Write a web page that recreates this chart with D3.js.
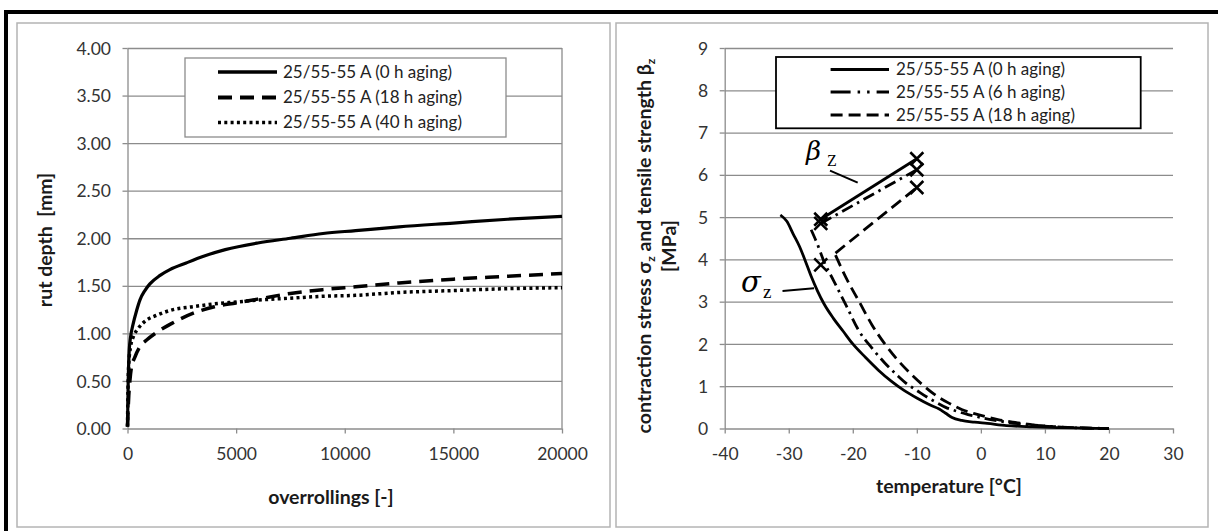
<!DOCTYPE html>
<html>
<head>
<meta charset="utf-8">
<script src="https://cdn.jsdelivr.net/npm/d3@7"></script>
<style>
  html, body { margin: 0; padding: 0; background: #fff; }
  svg { display: block; }
  .tick text { font-family: Lato, sans-serif; font-size: 17.5px; fill: #333; }
  .title { font-family: Lato, sans-serif; font-size: 19.5px; font-weight: bold; fill: #1a1a1a; }
  .legend text { font-family: Lato, sans-serif; font-size: 17px; fill: #222; }
</style>
</head>
<body>
<div id="chart"></div>
<script>
// ---- left chart: rut depth vs overrollings ----
var RUT_TICKS_X = [0, 5000, 10000, 15000, 20000];
var RUT_TICKS_Y = [0, 0.5, 1, 1.5, 2, 2.5, 3, 3.5, 4];

var RUT_0H = [[0,0.02],[30,0.47],[80,0.82],[140,0.96],[260,1.10],[420,1.24],[570,1.35],[800,1.45],[1030,1.52],
    [1500,1.61],[1950,1.67],[2700,1.74],[3500,1.81],[4500,1.88],[6000,1.95],[7500,2.00],[9000,2.05],
    [10500,2.08],[12500,2.12],[15000,2.16],[17500,2.20],[20000,2.23]];
var RUT_18H = [[0,0.02],[60,0.35],[110,0.50],[180,0.64],[340,0.75],[570,0.86],[880,0.93],[1340,1.01],
    [2000,1.10],[3000,1.21],[4000,1.28],[5000,1.32],[6000,1.36],[7500,1.42],[9000,1.46],[10500,1.49],
    [12500,1.53],[15000,1.57],[17500,1.60],[20000,1.63]];
var RUT_40H = [[0,0.02],[30,0.50],[60,0.68],[140,0.86],[260,0.96],[490,1.05],[880,1.14],[1340,1.19],
    [2100,1.25],[3000,1.28],[4000,1.31],[5000,1.33],[6000,1.35],[7500,1.37],[9000,1.39],[10500,1.40],
    [12500,1.43],[15000,1.45],[17500,1.47],[20000,1.48]];
var RUT_LABELS = ['25/55-55 A (0 h aging)', '25/55-55 A (18 h aging)', '25/55-55 A (40 h aging)'];

// ---- right chart: contraction stress / tensile strength vs temperature ----
var TEMP_TICKS_X = [-40, -30, -20, -10, 0, 10, 20, 30];
var STRESS_TICKS_Y = [0, 1, 2, 3, 4, 5, 6, 7, 8, 9];

var SIGMA_0H = [[-31.3,5.05],[-30.3,4.9],[-29.3,4.6],[-28.3,4.3],[-27.5,4.0],[-26.5,3.6],[-25.5,3.25],
    [-24.5,2.95],[-23,2.6],[-21.5,2.3],[-20,2.0],[-18,1.68],[-16,1.38],[-14,1.12],[-12,0.9],[-10,0.72],
    [-8,0.56],[-6.5,0.46],[-5.5,0.36],[-4.5,0.26],[-3,0.19],[-1,0.15],[1,0.12],[4,0.07],[8,0.04],
    [12,0.02],[16,0.01],[20,0]];
var SIGMA_6H = [[-26.5,4.7],[-25.5,4.35],[-24.5,3.95],[-23,3.5],[-21,2.9],[-19,2.3],[-17,1.9],[-15,1.55],
    [-13,1.25],[-11.5,1.05],[-10,0.9],[-8.5,0.75],[-7,0.62],[-5.5,0.5],[-4,0.42],[-2,0.33],[0,0.26],
    [2,0.2],[4,0.15],[6,0.11],[8,0.08],[11,0.05],[14,0.02],[20,0]];
var SIGMA_18H = [[-22.7,4.1],[-21,3.55],[-19,3.0],[-17,2.45],[-15,2.0],[-13,1.62],[-11,1.3],[-9,1.02],
    [-7,0.78],[-5,0.6],[-3,0.45],[-1,0.35],[1,0.27],[3,0.2],[5,0.15],[7,0.11],[9,0.07],[12,0.04],
    [15,0.02],[20,0]];
var BETA_0H = [[-25,4.95],[-10,6.38]];
var BETA_6H = [[-25,4.85],[-10,6.12]];
var BETA_18H = [[-22.7,4.15],[-10,5.7]];
var BETA_MARKS = [[-25,4.95],[-10,6.38],[-25,4.85],[-10,6.12],[-25,3.87],[-10,5.7]];
var STRESS_LABELS = ['25/55-55 A (0 h aging)', '25/55-55 A (6 h aging)', '25/55-55 A (18 h aging)'];

var W = 1218, H = 531,
    plotTop = 48, plotBottom = 428.5,
    gridColor = '#8c8c8c';

var svg = d3.select('#chart').append('svg')
    .attr('width', W)
    .attr('height', H);

function drawFrames() {
    // outer black frame (only top and left edge visible)
    svg.append('line').attr('x1', 4).attr('y1', 12).attr('x2', W).attr('y2', 12)
        .attr('stroke', '#000').attr('stroke-width', 4);
    svg.append('line').attr('x1', 6).attr('y1', 10).attr('x2', 6).attr('y2', H)
        .attr('stroke', '#000').attr('stroke-width', 4);

    [[17, 23, 593, 504], [616, 23, 592, 504]].forEach(function(r) {
        svg.append('rect')
            .attr('x', r[0]).attr('y', r[1]).attr('width', r[2]).attr('height', r[3])
            .attr('fill', 'none').attr('stroke', '#b4b4b4').attr('stroke-width', 1.5);
    });
}

function styleAxis(g) {
    g.select('.domain').attr('stroke', gridColor).attr('stroke-width', 1.3);
    g.selectAll('.tick line').attr('stroke', gridColor).attr('stroke-width', 1.3);
}

function drawAxes(x, y, xTicks, yTicks, yFormat, rightBorder) {
    var x0 = x.range()[0], x1 = x.range()[1];

    // horizontal gridlines
    svg.append('g')
        .attr('transform', 'translate(' + x0 + ',0)')
        .call(d3.axisLeft(y).tickValues(yTicks.slice(1)).tickSize(-(x1 - x0)).tickFormat(''))
        .call(function(g) {
            g.select('.domain').remove();
            g.selectAll('.tick line').attr('stroke', gridColor).attr('stroke-width', 1.3);
        });

    if (rightBorder) {
        svg.append('line')
            .attr('x1', x1).attr('x2', x1).attr('y1', plotTop).attr('y2', plotBottom)
            .attr('stroke', gridColor).attr('stroke-width', 1.3);
    }

    var gx = svg.append('g')
        .attr('transform', 'translate(0,' + plotBottom + ')')
        .call(d3.axisBottom(x).tickValues(xTicks).tickSize(5).tickSizeOuter(0)
            .tickFormat(function(d) { return String(d); }))
        .call(styleAxis);
    gx.selectAll('.tick text').attr('y', 25).attr('dy', '0.35em');

    var gy = svg.append('g')
        .attr('transform', 'translate(' + x0 + ',0)')
        .call(d3.axisLeft(y).tickValues(yTicks).tickSize(5).tickSizeOuter(0).tickFormat(yFormat))
        .call(styleAxis);
    gy.selectAll('.tick text').attr('x', -16.5).attr('dy', '0.35em');
}

function drawSeries(x, y, data, width, dash) {
    var line = d3.line()
        .x(function(d) { return x(d[0]); })
        .y(function(d) { return y(d[1]); })
        .curve(d3.curveMonotoneX);
    svg.append('path')
        .datum(data)
        .attr('d', line)
        .attr('fill', 'none')
        .attr('stroke', '#000')
        .attr('stroke-width', width)
        .attr('stroke-dasharray', dash || null)
        .attr('stroke-linejoin', 'round');
}

function drawLegend(box, rows, labels, styles, border) {
    var g = svg.append('g').attr('class', 'legend');
    g.append('rect')
        .attr('x', box[0]).attr('y', box[1]).attr('width', box[2]).attr('height', box[3])
        .attr('fill', '#fff').attr('stroke', border[0]).attr('stroke-width', border[1]);
    labels.forEach(function(label, i) {
        g.append('line')
            .attr('x1', box[4]).attr('x2', box[5]).attr('y1', rows[i]).attr('y2', rows[i])
            .attr('stroke', '#000')
            .attr('stroke-width', styles[i][0])
            .attr('stroke-dasharray', styles[i][1] || null);
        g.append('text')
            .attr('x', box[6]).attr('y', rows[i]).attr('dy', '0.35em')
            .text(label);
    });
}

function drawLeft() {
    var x = d3.scaleLinear().domain([0, 20000]).range([127.5, 562]),
        y = d3.scaleLinear().domain([0, 4]).range([plotBottom, plotTop]);

    drawAxes(x, y, RUT_TICKS_X, RUT_TICKS_Y, d3.format('.2f'), true);

    drawSeries(x, y, RUT_40H, 3.5, '3,3.3');
    drawSeries(x, y, RUT_18H, 3.5, '14,8');
    drawSeries(x, y, RUT_0H, 3.2);

    drawLegend([185, 58, 321, 79, 218, 277, 283], [72, 97.5, 122.5], RUT_LABELS,
        [[3.5], [3.8, '14,8'], [3.5, '3,3.3']], ['#8c8c8c', 1.3]);

    svg.append('text').attr('class', 'title')
        .attr('x', 331).attr('y', 497).attr('dy', '0.35em')
        .attr('text-anchor', 'middle')
        .text('overrollings [-]');
    svg.append('text').attr('class', 'title')
        .attr('transform', 'translate(45,240) rotate(-90)')
        .attr('dy', '0.35em')
        .attr('text-anchor', 'middle')
        .attr('xml:space', 'preserve')
        .text('rut depth  [mm]');
}

function drawRight() {
    var x = d3.scaleLinear().domain([-40, 30]).range([724.7, 1173]),
        y = d3.scaleLinear().domain([0, 9]).range([plotBottom, plotTop]);

    drawAxes(x, y, TEMP_TICKS_X, STRESS_TICKS_Y, function(d) { return String(d); }, false);

    drawSeries(x, y, SIGMA_18H, 2.8, '12,6');
    drawSeries(x, y, SIGMA_6H, 2.8, '12,5,2.5,5');
    drawSeries(x, y, SIGMA_0H, 2.8);
    drawSeries(x, y, BETA_18H, 2.8, '12,6');
    drawSeries(x, y, BETA_6H, 2.8, '12,5,2.5,5');
    drawSeries(x, y, BETA_0H, 2.8);

    // x markers for tensile strength
    var s = 6.5;
    svg.selectAll('.mark')
        .data(BETA_MARKS)
        .enter()
        .append('path')
        .attr('class', 'mark')
        .attr('d', function(d) {
            var cx = x(d[0]), cy = y(d[1]);
            return 'M' + (cx - s) + ',' + (cy - s) + 'L' + (cx + s) + ',' + (cy + s) +
                'M' + (cx - s) + ',' + (cy + s) + 'L' + (cx + s) + ',' + (cy - s);
        })
        .attr('stroke', '#000')
        .attr('stroke-width', 2.6)
        .attr('fill', 'none');

    drawLegend([776, 57, 364.7, 71.3, 830.6, 889, 896], [69.4, 92, 115], STRESS_LABELS,
        [[3], [3, '20,7,2.5,7,2.5,7'], [3, '12,6']], ['#000', 1.8]);

    // annotations
    svg.append('text')
        .attr('x', 806).attr('y', 160)
        .style('font-family', '"DejaVu Serif", serif').style('font-style', 'italic').style('font-size', '26px')
        .text('β');
    svg.append('text')
        .attr('x', 827).attr('y', 166)
        .style('font-family', '"Liberation Serif", serif').style('font-size', '16px')
        .text('Z');
    svg.append('line')
        .attr('x1', 830).attr('y1', 170.7).attr('x2', 857.7).attr('y2', 182.7)
        .attr('stroke', '#000').attr('stroke-width', 2);

    svg.append('text')
        .attr('x', 741).attr('y', 292)
        .style('font-family', '"DejaVu Serif", serif').style('font-style', 'italic').style('font-size', '29px')
        .text('σ');
    svg.append('text')
        .attr('x', 763).attr('y', 298)
        .style('font-family', '"Liberation Serif", serif').style('font-size', '19px')
        .text('z');
    svg.append('line')
        .attr('x1', 782.5).attr('y1', 291).attr('x2', 814).attr('y2', 288.3)
        .attr('stroke', '#000').attr('stroke-width', 2);

    svg.append('text').attr('class', 'title')
        .attr('x', 949).attr('y', 486).attr('dy', '0.35em')
        .attr('text-anchor', 'middle')
        .text('temperature [°C]');

    var yt = svg.append('text').attr('class', 'title')
        .attr('transform', 'translate(644,246) rotate(-90)')
        .attr('dy', '0.35em')
        .attr('text-anchor', 'middle');
    yt.append('tspan').text('contraction stress σ');
    yt.append('tspan').attr('dy', 4).style('font-size', '12px').text('z');
    yt.append('tspan').attr('dy', -4).text(' and tensile strength β');
    yt.append('tspan').attr('dy', 4).style('font-size', '12px').text('z');

    svg.append('text').attr('class', 'title')
        .attr('transform', 'translate(669,246) rotate(-90)')
        .attr('dy', '0.35em')
        .attr('text-anchor', 'middle')
        .text('[MPa]');
}

drawFrames();
drawLeft();
drawRight();
</script>
</body>
</html>
